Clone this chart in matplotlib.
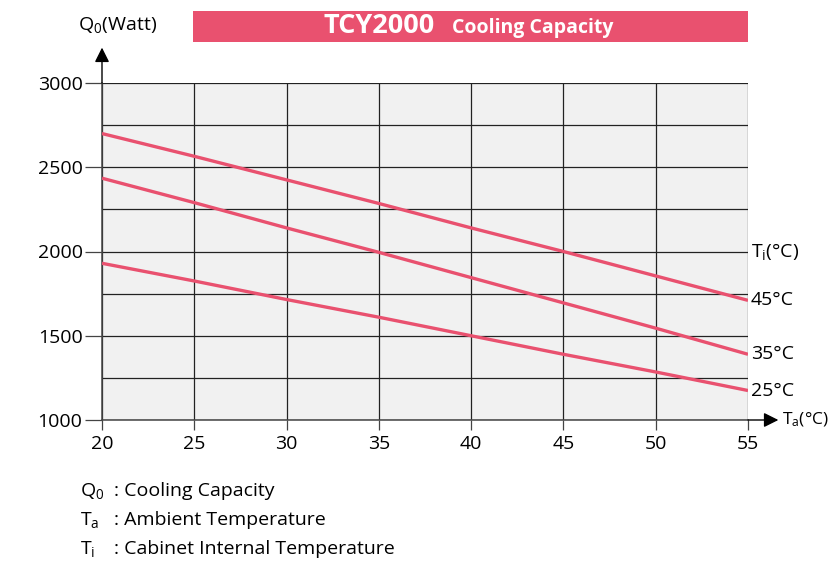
import numpy as np
import matplotlib.pyplot as plt
from matplotlib.patches import Rectangle
from matplotlib.ticker import MultipleLocator

plt.rcParams['font.family'] = ['Open Sans', 'DejaVu Sans']
plt.rcParams['mathtext.fontset'] = 'custom'
plt.rcParams['mathtext.rm'] = 'Open Sans'
plt.rcParams['mathtext.it'] = 'Open Sans'

# Dados
temp_ambiente = [20, 25, 30, 35, 40, 45, 50, 55]
rotulos_curvas = ['45°C', '35°C', '25°C']
capacidade = [
    [2700, 2565, 2425, 2285, 2140, 2000, 1855, 1710],
    [2435, 2290, 2140, 1995, 1845, 1695, 1545, 1390],
    [1930, 1825, 1715, 1610, 1500, 1390, 1285, 1175],
]

cor = '#e9516f'
fs = 14

fig = plt.figure(figsize=(8.29, 5.62), dpi=100)
ax = fig.add_axes([102/829, 1 - 420/562, 646/829, 337/562])
ax.set_facecolor('#f1f1f1')

for serie in capacidade:
    ax.plot(temp_ambiente, serie, color=cor, linewidth=2.4, solid_capstyle='butt', zorder=3)

ax.set_xlim(20, 55)
ax.set_ylim(1000, 3000)
ax.xaxis.set_major_locator(MultipleLocator(5))
ax.yaxis.set_major_locator(MultipleLocator(500))
ax.yaxis.set_minor_locator(MultipleLocator(250))
ax.grid(True, which='major', color='#222222', linewidth=0.9, zorder=1)
ax.grid(True, which='minor', axis='y', color='#222222', linewidth=0.9, zorder=1)
ax.tick_params(axis='y', which='major', length=12, width=0.9, color='#444444', labelsize=fs, pad=2)
ax.tick_params(axis='y', which='minor', length=0)
ax.tick_params(axis='x', which='major', length=7, width=0.9, color='#444444', labelsize=fs, pad=4)
for lado in ['top', 'right']:
    ax.spines[lado].set_visible(False)
for lado in ['left', 'bottom']:
    ax.spines[lado].set_color('#444444')
    ax.spines[lado].set_linewidth(1.1)

# Setas dos eixos
ax.annotate('', xy=(0, 1.105), xytext=(0, 1), xycoords='axes fraction',
            arrowprops=dict(arrowstyle='-|>', color='black', lw=1, mutation_scale=22,
                            shrinkA=0, shrinkB=0))
ax.annotate('', xy=(1.047, 0), xytext=(1, 0), xycoords='axes fraction',
            arrowprops=dict(arrowstyle='-|>', color='black', lw=1, mutation_scale=22,
                            shrinkA=0, shrinkB=0))

# Rótulos das curvas
for rotulo, serie in zip(rotulos_curvas, capacidade):
    ax.text(55.15, serie[-1], rotulo, fontsize=fs, va='center', ha='left', clip_on=False)
ax.text(55.15, 2000, r'T$_\mathrm{i}$(°C)', fontsize=fs, va='center', ha='left', clip_on=False)

fig.text(782/829, 1 - 420/562, r'T$_\mathrm{a}$(°C)', fontsize=12.5, va='center', ha='left')
fig.text(78/829, 1 - 25/562, r'Q$_0$(Watt)', fontsize=fs, va='center', ha='left')

# Faixa de título
fig.patches.append(Rectangle((193/829, 1 - 42/562), 555/829, 31/562,
                             transform=fig.transFigure, facecolor=cor, edgecolor='none'))
fig.text(324/829, 1 - 26/562, 'TCY2000', fontsize=19.5, fontweight='bold', color='white',
         va='center', ha='left')
fig.text(452/829, 1 - 28/562, 'Cooling Capacity', fontsize=14, fontweight='bold', color='white',
         va='center', ha='left')

# Legenda inferior
legenda = [(r'Q$_0$', ': Cooling Capacity'),
           (r'T$_\mathrm{a}$', ': Ambient Temperature'),
           (r'T$_\mathrm{i}$', ': Cabinet Internal Temperature')]
for i, (simbolo, descricao) in enumerate(legenda):
    y = 1 - (491 + 29 * i) / 562
    fig.text(80/829, y, simbolo, fontsize=fs, va='center', ha='left')
    fig.text(114/829, y, descricao, fontsize=fs, va='center', ha='left')

fig.savefig('out.png', dpi=100)
